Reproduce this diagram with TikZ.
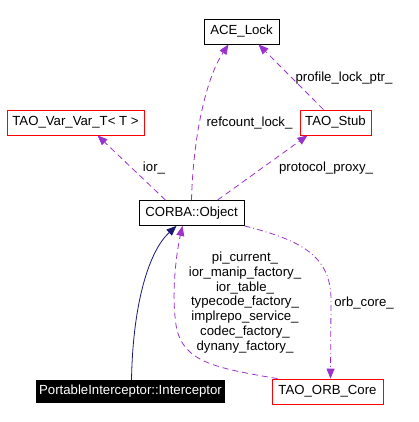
\documentclass[tikz,border=0pt]{standalone}
\usepackage{fontspec}
\setmainfont{Liberation Sans}
\usepackage{tikz}
\usetikzlibrary{arrows, arrows.meta, positioning, shapes}
\definecolor{edgepurple}{HTML}{9A32CD}
\definecolor{navyblue}{HTML}{191970}
\tikzset{
        every node/.style={font=\fontsize{13.2}{14.8}\selectfont}, % doxygen label size
        member/.style={draw=edgepurple, line width=0.8pt, dash pattern=on 6pt off 4pt, -{Triangle[length=10pt, width=8pt]}, edgepurple},
    }
\tikzstyle{cls}=[draw,rectangle,line width=0.8pt,minimum height=25pt,inner sep=0pt]
\tikzstyle{redcls}=[cls,draw=red]
\tikzstyle{root}=[rectangle,fill=black,text=white,minimum height=23pt,inner sep=0pt]
\tikzstyle{lbl}=[inner sep=0pt,align=center]

\begin{document}
\begin{tikzpicture}[x=1pt, y=-1pt]
    \useasboundingbox (0,0) rectangle (419,422);
    % classes
    \node[cls, minimum width=75pt] (ace) at (241.5,31.5) {ACE\_Lock};
    \node[redcls, minimum width=137pt] (varvar) at (75.5,122.5) {TAO\_Var\_Var\_T< T >};
    \node[redcls, minimum width=71pt] (stub) at (335.5,122.5) {TAO\_Stub};
    \node[cls, minimum width=105pt] (corba) at (191.5,213) {CORBA::Object};
    \node[root, minimum width=189pt] (interceptor) at (130.5,391.5) {PortableInterceptor::Interceptor};
    \node[redcls, minimum width=111pt] (orbcore) at (327.5,391.5) {TAO\_ORB\_Core};

    % members
    \draw[member] (corba.north) .. controls (193,140) and (205,80) .. ([xshift=-13pt]ace.south);
    \draw[member] ([xshift=-12pt]stub.north) -- ([xshift=17pt]ace.south);
    \draw[member] ([xshift=-26pt]corba.north) -- ([xshift=22pt]varvar.south);
    \draw[member] ([xshift=26pt]corba.north) -- ([xshift=-28pt]stub.south);
    \draw[member] ([xshift=-50pt]orbcore.north) .. controls (215,368) and (182,362) .. (176,325)
        .. controls (171,290) and (177,250) .. ([xshift=-9pt]corba.south);
    \draw[member, dash pattern=on 6pt off 3pt on 1pt off 3pt] (corba.south east) .. controls (300,240) and (331,255) .. (331,300)
        -- ([xshift=3pt]orbcore.north);

    % inheritance
    \draw[navyblue, line width=0.8pt, -{Triangle[length=10pt, width=8pt]}] ([xshift=1pt]interceptor.north)
        .. controls (133,300) and (150,250) .. ([xshift=-15pt]corba.south);

    % labels
    \node[lbl] (refcount) at (249.5,123) {refcount\_lock\_};
    \node[lbl] (profile) at (344,78) {profile\_lock\_ptr\_};
    \node[lbl] (ior) at (154,168) {ior\_};
    \node[lbl] (proxy) at (326,168) {protocol\_proxy\_};
    \node[lbl] (orbmembers) at (245,302.5) {pi\_current\_\\ior\_manip\_factory\_\\ior\_table\_\\typecode\_factory\_\\implrepo\_service\_\\codec\_factory\_\\dynany\_factory\_};
    \node[lbl] (orbcorelbl) at (364,303) {orb\_core\_};
\end{tikzpicture}
\end{document}
